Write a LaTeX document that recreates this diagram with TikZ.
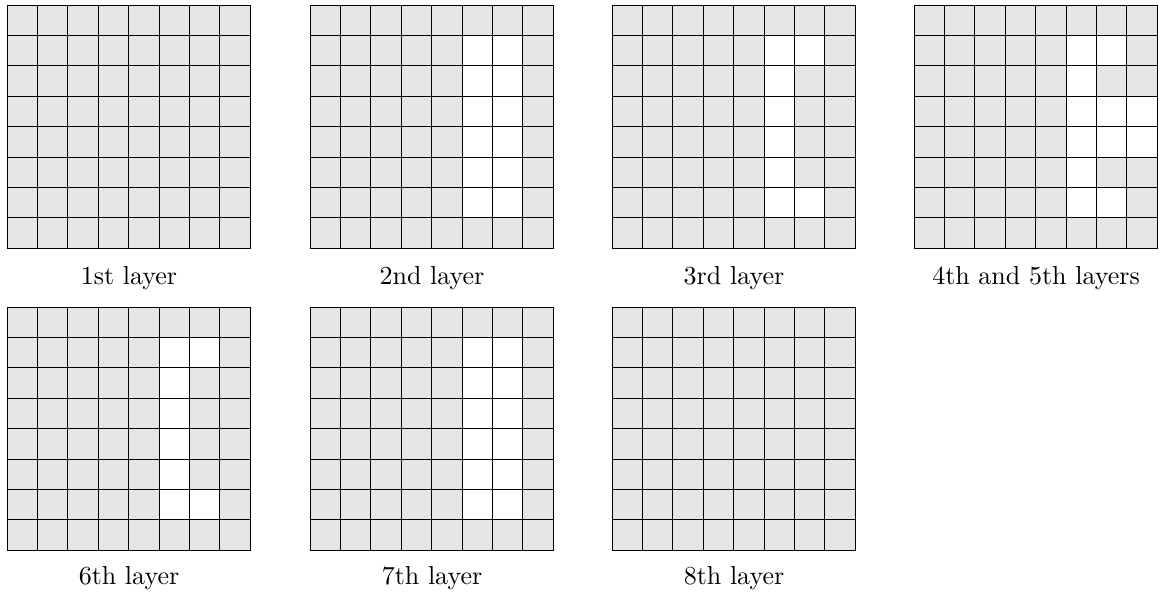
\documentclass[tikz,border=0pt]{standalone}
\usepackage{fontspec}
\setmainfont{lmroman10-regular.otf}
\begin{document}
\newcommand\mylayer[3]{%
  \begin{scope}[shift={(#1,#2)}]
    \fill[cellgray] (0,0) rectangle (243.2,243.2);
    #3
    \foreach \i in {0,...,8} {
      \draw[gridline] (\i*30.4,0) -- (\i*30.4,243.2);
      \draw[gridline] (0,\i*30.4) -- (243.2,\i*30.4);
    }
  \end{scope}}
\newcommand\mywhite[1]{\foreach \c/\r in {#1} {\fill[white] (\c*30.4,\r*30.4) rectangle ++(30.4,30.4);}}
\begin{tikzpicture}[x=1pt,y=-1pt,
  cellgray/.style={fill=gray!20},
  gridline/.style={draw=black,line width=0.9pt,line cap=rect},
  lbl/.style={font=\fontsize{26}{31}\selectfont, inner sep=0pt, anchor=base}]
\useasboundingbox (0,0) rectangle (1159,598);
\mylayer{7}{5}{}
\mylayer{310}{5}{\mywhite{5/1,5/2,5/3,5/4,5/5,5/6,6/1,6/2,6/3,6/4,6/5,6/6}}
\mylayer{612}{5}{\mywhite{5/1,5/2,5/3,5/4,5/5,5/6,6/1,6/6}}
\mylayer{914}{5}{\mywhite{5/1,5/2,5/3,5/4,5/5,5/6,6/1,6/3,6/4,6/6,7/3,7/4}}
\mylayer{7}{307}{\mywhite{5/1,5/2,5/3,5/4,5/5,5/6,6/1,6/6}}
\mylayer{310}{307}{\mywhite{5/1,5/2,5/3,5/4,5/5,5/6,6/1,6/2,6/3,6/4,6/5,6/6}}
\mylayer{612}{307}{}
\node[lbl] (l1) at (129,284) {1st layer};
\node[lbl] (l2) at (432,284) {2nd layer};
\node[lbl] (l3) at (734,284) {3rd layer};
\node[lbl] (l4) at (1036,284) {4th and 5th layers};
\node[lbl] (l6) at (129,584) {6th layer};
\node[lbl] (l7) at (432,584) {7th layer};
\node[lbl] (l8) at (734,584) {8th layer};
\end{tikzpicture}
\end{document}
